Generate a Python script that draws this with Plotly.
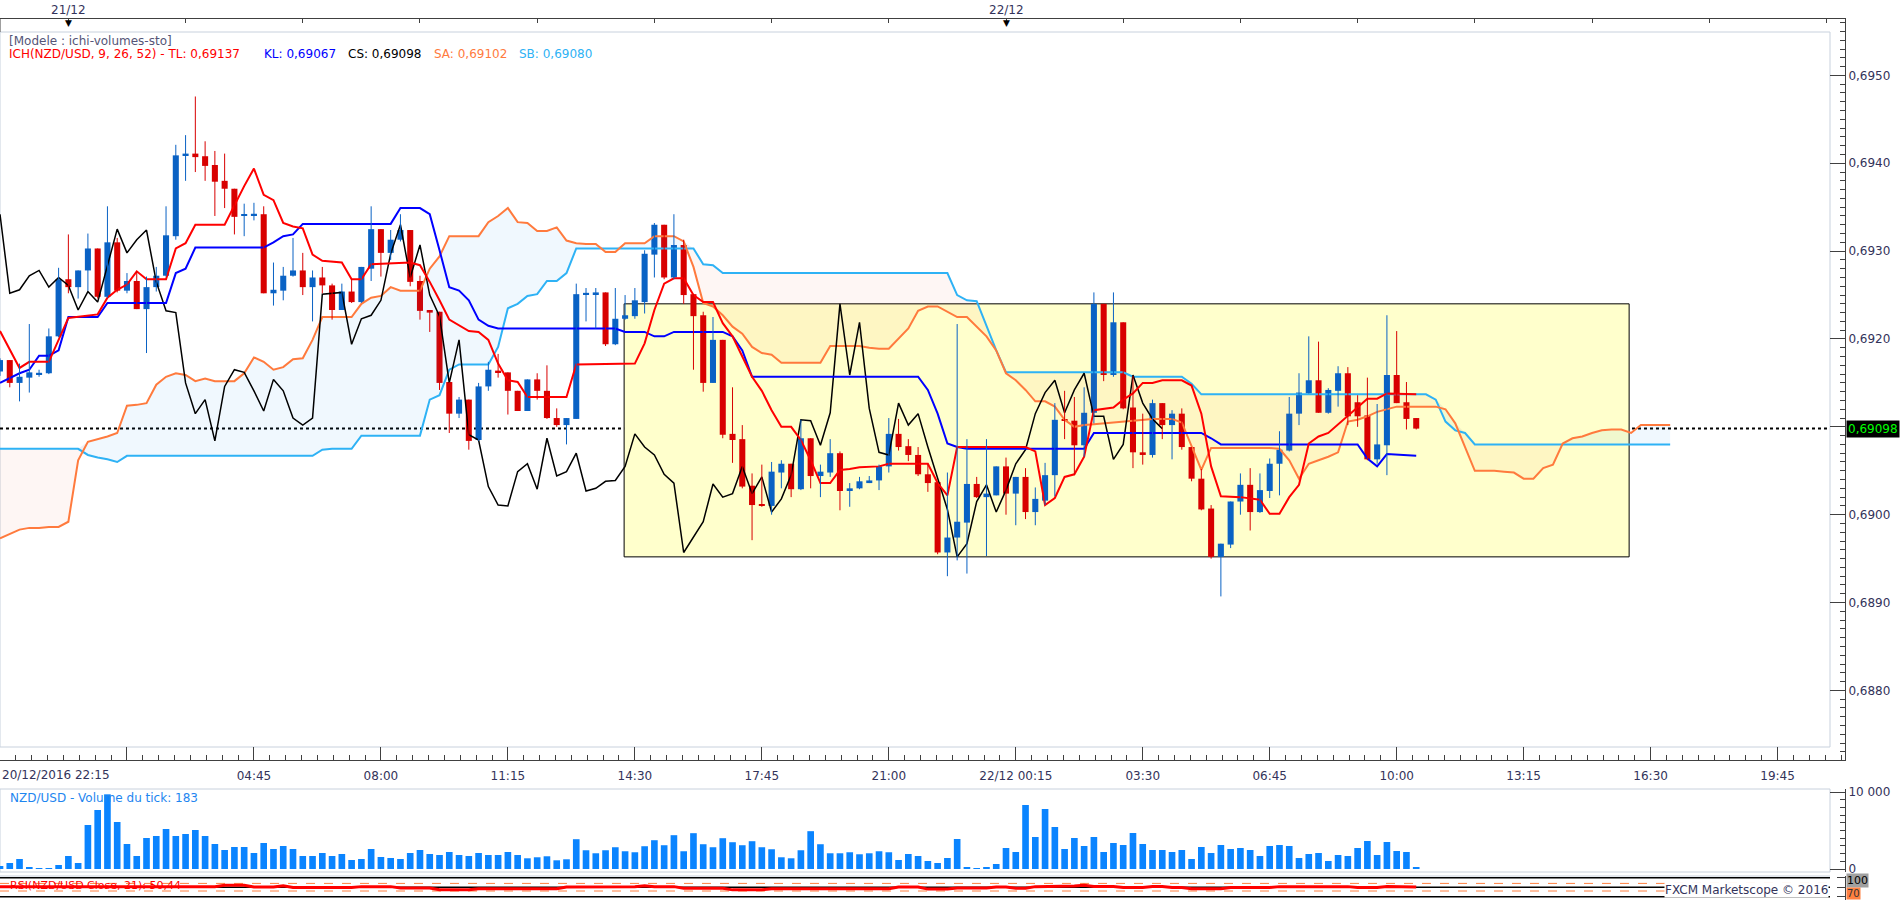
import numpy as np
import plotly.graph_objects as go
from plotly.subplots import make_subplots

# NZD/USD, 15 min bars. bar 0 = 20/12/2016 22:15, last bar (145) = 22/12/2016 10:30
opens = [
    0.69163, 0.69176, 0.69150, 0.69156, 0.69160, 0.69161, 0.69203, 0.69268, 0.69259, 0.69278,
    0.69303, 0.69248, 0.69310, 0.69255, 0.69266, 0.69234, 0.69259, 0.69272, 0.69317, 0.69409,
    0.69411, 0.69408, 0.69398, 0.69380, 0.69371, 0.69340, 0.69341, 0.69342, 0.69252, 0.69255,
    0.69272, 0.69278, 0.69259, 0.69270, 0.69261, 0.69233, 0.69254, 0.69242, 0.69280, 0.69325,
    0.69298, 0.69313, 0.69324, 0.69266, 0.69233, 0.69231, 0.69151, 0.69115, 0.69131, 0.69085,
    0.69146, 0.69164, 0.69162, 0.69141, 0.69118, 0.69154, 0.69141, 0.69110, 0.69102, 0.69109,
    0.69251, 0.69251, 0.69253, 0.69194, 0.69223, 0.69226, 0.69242, 0.69296, 0.69330, 0.69270,
    0.69307, 0.69251, 0.69227, 0.69150, 0.69199, 0.69092, 0.69086, 0.69033, 0.69012, 0.69010,
    0.69048, 0.69058, 0.69029, 0.69087, 0.69044, 0.69048, 0.69070, 0.69027, 0.69030, 0.69036,
    0.69039, 0.69055, 0.69092, 0.69078, 0.69068, 0.69046, 0.69037, 0.68957, 0.68974, 0.68991,
    0.69035, 0.69020, 0.69022, 0.69055, 0.69024, 0.69043, 0.69003, 0.69016, 0.69045, 0.69108,
    0.69107, 0.69079, 0.69116, 0.69240, 0.69159, 0.69219, 0.69122, 0.69071, 0.69068, 0.69127,
    0.69102, 0.69115, 0.69077, 0.69041, 0.69007, 0.68952, 0.68966, 0.69015, 0.69034, 0.69003,
    0.69027, 0.69058, 0.69073, 0.69115, 0.69138, 0.69153, 0.69116, 0.69141, 0.69161, 0.69128,
    0.69113, 0.69063, 0.69079, 0.69159, 0.69128, 0.69110,
]
highs = [
    0.69178, 0.69176, 0.69172, 0.69217, 0.69165, 0.69212, 0.69281, 0.69319, 0.69278, 0.69320,
    0.69303, 0.69351, 0.69315, 0.69275, 0.69277, 0.69271, 0.69282, 0.69351, 0.69421, 0.69432,
    0.69476, 0.69425, 0.69414, 0.69411, 0.69371, 0.69354, 0.69355, 0.69351, 0.69287, 0.69282,
    0.69315, 0.69298, 0.69278, 0.69282, 0.69263, 0.69263, 0.69268, 0.69282, 0.69351, 0.69325,
    0.69324, 0.69342, 0.69324, 0.69272, 0.69233, 0.69231, 0.69151, 0.69134, 0.69131, 0.69150,
    0.69174, 0.69183, 0.69162, 0.69141, 0.69154, 0.69161, 0.69170, 0.69121, 0.69110, 0.69263,
    0.69258, 0.69258, 0.69253, 0.69258, 0.69250, 0.69258, 0.69301, 0.69332, 0.69330, 0.69342,
    0.69313, 0.69251, 0.69231, 0.69225, 0.69199, 0.69145, 0.69102, 0.69047, 0.69057, 0.69060,
    0.69062, 0.69058, 0.69108, 0.69087, 0.69057, 0.69086, 0.69072, 0.69036, 0.69043, 0.69044,
    0.69057, 0.69110, 0.69109, 0.69086, 0.69077, 0.69058, 0.69037, 0.69048, 0.69217, 0.69086,
    0.69043, 0.69086, 0.69055, 0.69065, 0.69043, 0.69053, 0.69031, 0.69059, 0.69127, 0.69141,
    0.69134, 0.69145, 0.69253, 0.69240, 0.69253, 0.69219, 0.69158, 0.69115, 0.69131, 0.69127,
    0.69119, 0.69121, 0.69077, 0.69052, 0.69011, 0.68967, 0.69015, 0.69047, 0.69053, 0.69047,
    0.69064, 0.69095, 0.69134, 0.69161, 0.69203, 0.69197, 0.69144, 0.69169, 0.69168, 0.69136,
    0.69156, 0.69126, 0.69227, 0.69209, 0.69151, 0.69110,
]
lows = [
    0.69158, 0.69145, 0.69129, 0.69139, 0.69157, 0.69160, 0.69202, 0.69252, 0.69246, 0.69255,
    0.69246, 0.69247, 0.69253, 0.69252, 0.69234, 0.69184, 0.69254, 0.69271, 0.69313, 0.69380,
    0.69390, 0.69380, 0.69340, 0.69349, 0.69319, 0.69317, 0.69335, 0.69252, 0.69238, 0.69244,
    0.69271, 0.69250, 0.69220, 0.69252, 0.69222, 0.69233, 0.69241, 0.69241, 0.69266, 0.69271,
    0.69290, 0.69311, 0.69260, 0.69222, 0.69208, 0.69142, 0.69093, 0.69110, 0.69074, 0.69084,
    0.69141, 0.69156, 0.69114, 0.69118, 0.69118, 0.69131, 0.69109, 0.69100, 0.69080, 0.69109,
    0.69220, 0.69212, 0.69192, 0.69193, 0.69222, 0.69223, 0.69229, 0.69270, 0.69268, 0.69268,
    0.69240, 0.69165, 0.69140, 0.69150, 0.69087, 0.69059, 0.69030, 0.68971, 0.69009, 0.69000,
    0.69030, 0.69020, 0.69028, 0.69030, 0.69020, 0.69043, 0.69005, 0.69009, 0.69029, 0.69036,
    0.69028, 0.69048, 0.69073, 0.69061, 0.69044, 0.69026, 0.68955, 0.68930, 0.68948, 0.68933,
    0.69019, 0.68953, 0.69022, 0.69000, 0.68988, 0.68995, 0.68988, 0.69011, 0.69021, 0.69086,
    0.69045, 0.69066, 0.69104, 0.69152, 0.69157, 0.69120, 0.69053, 0.69057, 0.69065, 0.69086,
    0.69063, 0.69074, 0.69038, 0.69005, 0.68950, 0.68907, 0.68962, 0.69000, 0.68982, 0.69002,
    0.69019, 0.69022, 0.69072, 0.69102, 0.69138, 0.69116, 0.69115, 0.69123, 0.69102, 0.69100,
    0.69062, 0.69058, 0.69045, 0.69127, 0.69097, 0.69097,
]
closes = [
    0.69176, 0.69150, 0.69157, 0.69162, 0.69161, 0.69203, 0.69268, 0.69259, 0.69278, 0.69303,
    0.69248, 0.69310, 0.69255, 0.69266, 0.69234, 0.69259, 0.69272, 0.69318, 0.69409, 0.69411,
    0.69407, 0.69397, 0.69379, 0.69371, 0.69339, 0.69342, 0.69342, 0.69252, 0.69256, 0.69272,
    0.69278, 0.69259, 0.69270, 0.69261, 0.69233, 0.69254, 0.69242, 0.69282, 0.69325, 0.69298,
    0.69313, 0.69324, 0.69265, 0.69232, 0.69230, 0.69150, 0.69115, 0.69131, 0.69084, 0.69146,
    0.69165, 0.69162, 0.69141, 0.69118, 0.69154, 0.69141, 0.69110, 0.69102, 0.69110, 0.69251,
    0.69252, 0.69253, 0.69194, 0.69223, 0.69227, 0.69244, 0.69297, 0.69330, 0.69270, 0.69307,
    0.69250, 0.69226, 0.69150, 0.69199, 0.69091, 0.69085, 0.69032, 0.69011, 0.69010, 0.69049,
    0.69058, 0.69029, 0.69087, 0.69044, 0.69049, 0.69070, 0.69027, 0.69030, 0.69038, 0.69039,
    0.69055, 0.69092, 0.69077, 0.69068, 0.69046, 0.69036, 0.68957, 0.68974, 0.68992, 0.69035,
    0.69020, 0.69024, 0.69055, 0.69024, 0.69043, 0.69003, 0.69018, 0.69045, 0.69108, 0.69107,
    0.69079, 0.69116, 0.69240, 0.69159, 0.69219, 0.69121, 0.69071, 0.69068, 0.69127, 0.69102,
    0.69115, 0.69077, 0.69041, 0.69006, 0.68952, 0.68967, 0.69015, 0.69034, 0.69003, 0.69028,
    0.69058, 0.69074, 0.69115, 0.69139, 0.69153, 0.69116, 0.69142, 0.69161, 0.69112, 0.69112,
    0.69063, 0.69080, 0.69159, 0.69127, 0.69109, 0.69098,
]
volumes = [
    390, 779, 1299, 260, 130, 130, 519, 1688, 779, 5714,
    7662, 9697, 6104, 3247, 1688, 4026, 4286, 5195, 4286, 4545,
    5065, 4286, 3247, 2468, 2857, 2857, 2078, 3377, 2597, 2987,
    2597, 1688, 1688, 2078, 1688, 1948, 1169, 1299, 2597, 1558,
    1429, 1299, 2078, 2468, 1948, 1818, 2208, 1818, 1688, 2078,
    1818, 1818, 2208, 1818, 1391, 1522, 1652, 1130, 1261, 3870,
    2435, 2043, 2435, 2826, 2304, 2174, 2957, 3739, 3087, 4391,
    2304, 4652, 3217, 2826, 4000, 3478, 3087, 3609, 2826, 2565,
    1522, 1391, 2435, 4913, 3217, 2043, 2043, 2174, 1913, 2043,
    2304, 2174, 1169, 1948, 1688, 1039, 779, 1429, 3896, 260,
    130, 260, 649, 2727, 2208, 8312, 4156, 7792, 5455, 2597,
    4026, 2987, 4156, 2208, 3377, 3117, 4675, 3247, 2468, 2468,
    2208, 2468, 1299, 2857, 2078, 3117, 2597, 2727, 2468, 1688,
    2987, 3117, 2987, 1429, 1948, 2078, 1039, 1818, 1688, 2727,
    3636, 1818, 3506, 2338, 2208, 183,
]
rsi = [
    53, 53, 53, 53, 53, 53, 53, 53, 53, 53,
    53, 53, 53, 53, 53, 53, 53, 53, 53, 53,
    53, 53, 53, 60, 60, 60, 51, 51, 51, 58,
    48, 48, 48, 48, 48, 48, 48, 53, 53, 53,
    53, 46, 46, 46, 46, 37, 37, 37, 37, 42,
    42, 42, 42, 42, 42, 42, 42, 42, 51, 51,
    51, 51, 51, 53, 53, 53, 58, 53, 53, 53,
    44, 44, 44, 44, 44, 36, 36, 36, 36, 42,
    42, 42, 42, 42, 42, 42, 42, 42, 42, 42,
    42, 42, 51, 51, 51, 40, 40, 40, 46, 46,
    46, 46, 51, 51, 44, 44, 53, 53, 56, 56,
    56, 60, 54, 54, 54, 49, 49, 49, 54, 54,
    49, 49, 42, 42, 42, 42, 48, 48, 48, 48,
    48, 53, 53, 53, 53, 53, 53, 53, 53, 48,
    48, 48, 54, 54, 52, 50.44,
]

# Tenkan (TL) and Kijun (KL) read at their break points
tenkan_bars = [0, 2, 3, 5, 7, 10, 11, 12, 13, 14, 15, 17, 18, 19, 20, 23, 25, 26, 27, 28,
               29, 30, 31, 32, 33, 35, 36, 37, 38, 42, 43, 44, 45, 46, 48, 49, 50, 51, 52, 53,
               54, 58, 59, 65, 66, 67, 68, 69, 70, 71, 72, 73, 74, 75, 76, 77, 78, 79, 80, 81,
               82, 83, 84, 85, 86, 87, 88, 90, 91, 95, 96, 97, 98, 105, 106, 107, 108, 109, 110, 111,
               112, 114, 115, 116, 117, 118, 119, 121, 122, 123, 124, 125, 127, 129, 130, 131, 132, 133, 134, 135,
               136, 137, 138, 139, 140, 141, 142, 145]
tenkan_vals = [0.69209, 0.69167, 0.69174, 0.69174, 0.69224, 0.69228, 0.69247, 0.69256, 0.69262, 0.69277,
               0.69268, 0.69268, 0.69303, 0.69309, 0.69330, 0.69330, 0.69374, 0.69394, 0.69364, 0.69358,
               0.69332, 0.69328, 0.69326, 0.69296, 0.69289, 0.69287, 0.69268, 0.69268, 0.69285, 0.69287,
               0.69284, 0.69265, 0.69244, 0.69222, 0.69209, 0.69208, 0.69199, 0.69172, 0.69153, 0.69151,
               0.69134, 0.69134, 0.69171, 0.69172, 0.69195, 0.69233, 0.69263, 0.69269, 0.69269, 0.69250,
               0.69242, 0.69242, 0.69218, 0.69203, 0.69180, 0.69157, 0.69141, 0.69119, 0.69100, 0.69100,
               0.69085, 0.69062, 0.69036, 0.69036, 0.69051, 0.69052, 0.69054, 0.69055, 0.69058, 0.69058,
               0.69036, 0.69022, 0.69077, 0.69077, 0.69072, 0.69011, 0.69019, 0.69043, 0.69046, 0.69066,
               0.69119, 0.69122, 0.69131, 0.69138, 0.69150, 0.69150, 0.69153, 0.69153, 0.69147, 0.69115,
               0.69055, 0.69021, 0.69020, 0.69017, 0.69001, 0.69001, 0.69020, 0.69034, 0.69081, 0.69089,
               0.69093, 0.69103, 0.69112, 0.69123, 0.69132, 0.69132, 0.69138, 0.69137]
kijun_bars = [0, 2, 3, 4, 5, 6, 7, 10, 11, 17, 18, 19, 20, 27, 28, 29, 30, 31, 40, 41,
              43, 44, 45, 46, 47, 48, 49, 50, 51, 63, 64, 66, 67, 68, 69, 74, 75, 76, 77, 94,
              95, 96, 97, 98, 99, 111, 112, 123, 124, 125, 139, 140, 141, 142, 145]
kijun_vals = [0.69150, 0.69161, 0.69165, 0.69181, 0.69181, 0.69187, 0.69225, 0.69225, 0.69241, 0.69241,
              0.69275, 0.69280, 0.69304, 0.69304, 0.69310, 0.69317, 0.69319, 0.69331, 0.69331, 0.69349,
              0.69349, 0.69342, 0.69301, 0.69259, 0.69255, 0.69244, 0.69222, 0.69215, 0.69212, 0.69212,
              0.69208, 0.69208, 0.69203, 0.69203, 0.69208, 0.69208, 0.69203, 0.69187, 0.69157, 0.69157,
              0.69142, 0.69115, 0.69081, 0.69077, 0.69075, 0.69075, 0.69093, 0.69093, 0.69087, 0.69080,
              0.69080, 0.69064, 0.69055, 0.69069, 0.69067]

# Senkou spans, one value per bar from bar 0 to bar 171 (26 bars past the last candle)
senkou_a = [
    0.68973, 0.68978, 0.68983, 0.68985, 0.68985, 0.68986, 0.68986, 0.68992, 0.69062, 0.69083,
    0.69086, 0.69089, 0.69093, 0.69124, 0.69125, 0.69127, 0.69148, 0.69157, 0.69161, 0.69159,
    0.69152, 0.69155, 0.69152, 0.69152, 0.69152, 0.69161, 0.69179, 0.69174, 0.69165, 0.69168,
    0.69177, 0.69178, 0.69199, 0.69225, 0.69225, 0.69225, 0.69225, 0.69240, 0.69247, 0.69249,
    0.69259, 0.69255, 0.69255, 0.69255, 0.69280, 0.69294, 0.69317, 0.69317, 0.69317, 0.69317,
    0.69333, 0.69340, 0.69349, 0.69333, 0.69332, 0.69323, 0.69323, 0.69327, 0.69312, 0.69309,
    0.69308, 0.69308, 0.69299, 0.69299, 0.69309, 0.69309, 0.69309, 0.69317, 0.69317, 0.69317,
    0.69311, 0.69282, 0.69241, 0.69237, 0.69227, 0.69214, 0.69206, 0.69191, 0.69184, 0.69182,
    0.69173, 0.69173, 0.69173, 0.69173, 0.69173, 0.69192, 0.69192, 0.69192, 0.69192, 0.69190,
    0.69189, 0.69189, 0.69200, 0.69212, 0.69232, 0.69237, 0.69237, 0.69231, 0.69225, 0.69225,
    0.69214, 0.69203, 0.69187, 0.69161, 0.69153, 0.69142, 0.69129, 0.69129, 0.69123, 0.69108,
    0.69100, 0.69102, 0.69103, 0.69104, 0.69105, 0.69106, 0.69107, 0.69108, 0.69109, 0.69109,
    0.69109, 0.69105, 0.69077, 0.69051, 0.69076, 0.69076, 0.69076, 0.69076, 0.69076, 0.69076,
    0.69076, 0.69075, 0.69062, 0.69041, 0.69058, 0.69062, 0.69066, 0.69071, 0.69106, 0.69108,
    0.69112, 0.69117, 0.69120, 0.69123, 0.69123, 0.69123, 0.69123, 0.69123, 0.69120, 0.69104,
    0.69077, 0.69050, 0.69050, 0.69050, 0.69049, 0.69048, 0.69041, 0.69041, 0.69053, 0.69057,
    0.69081, 0.69087, 0.69089, 0.69093, 0.69096, 0.69097, 0.69097, 0.69093, 0.69102, 0.69102,
    0.69102, 0.69102,
]
senkou_b = [
    0.69075, 0.69075, 0.69075, 0.69075, 0.69075, 0.69075, 0.69075, 0.69075, 0.69075, 0.69068,
    0.69065, 0.69063, 0.69060, 0.69067, 0.69067, 0.69067, 0.69067, 0.69067, 0.69067, 0.69067,
    0.69067, 0.69067, 0.69067, 0.69067, 0.69067, 0.69067, 0.69067, 0.69067, 0.69067, 0.69067,
    0.69067, 0.69067, 0.69067, 0.69074, 0.69075, 0.69075, 0.69075, 0.69090, 0.69090, 0.69090,
    0.69090, 0.69090, 0.69090, 0.69090, 0.69131, 0.69136, 0.69165, 0.69171, 0.69171, 0.69171,
    0.69171, 0.69191, 0.69235, 0.69240, 0.69249, 0.69251, 0.69266, 0.69266, 0.69275, 0.69303,
    0.69303, 0.69303, 0.69303, 0.69303, 0.69303, 0.69303, 0.69303, 0.69303, 0.69303, 0.69303,
    0.69303, 0.69303, 0.69285, 0.69284, 0.69275, 0.69275, 0.69275, 0.69275, 0.69275, 0.69275,
    0.69275, 0.69275, 0.69275, 0.69275, 0.69275, 0.69275, 0.69275, 0.69275, 0.69275, 0.69275,
    0.69275, 0.69275, 0.69275, 0.69275, 0.69275, 0.69275, 0.69275, 0.69275, 0.69250, 0.69244,
    0.69243, 0.69214, 0.69187, 0.69162, 0.69162, 0.69162, 0.69162, 0.69162, 0.69162, 0.69162,
    0.69162, 0.69162, 0.69162, 0.69162, 0.69162, 0.69162, 0.69157, 0.69157, 0.69157, 0.69157,
    0.69157, 0.69157, 0.69149, 0.69137, 0.69137, 0.69137, 0.69137, 0.69137, 0.69137, 0.69137,
    0.69137, 0.69137, 0.69137, 0.69137, 0.69137, 0.69137, 0.69137, 0.69137, 0.69137, 0.69137,
    0.69137, 0.69137, 0.69137, 0.69137, 0.69137, 0.69137, 0.69137, 0.69131, 0.69106, 0.69096,
    0.69093, 0.69080, 0.69080, 0.69080, 0.69080, 0.69080, 0.69080, 0.69080, 0.69080, 0.69080,
    0.69080, 0.69080, 0.69080, 0.69080, 0.69080, 0.69080, 0.69080, 0.69080, 0.69080, 0.69080,
    0.69080, 0.69080,
]

# bottom time axis: a major tick every 13 bars (3h15)
tick_bars = list(range(0, 183, 13))
tick_labels = ["", "", "04:45", "08:00", "11:15", "14:30", "17:45", "21:00",
               "22/12 00:15", "03:30", "06:45", "10:00", "13:15", "16:30", "19:45"]
first_label = "20/12/2016 22:15"
# price axis; 0,6910 sits under the last price box
price_ticks = [0.6880, 0.6890, 0.6900, 0.6910, 0.6920, 0.6930, 0.6940, 0.6950]
price_labels = ["0,6880", "0,6890", "0,6900", "", "0,6920", "0,6930", "0,6940", "0,6950"]
# top strip: a tick every 3 hours, day markers at midnight
top_tick_bars = list(range(7, 189, 12))
day_bars = [7, 103]
day_labels = ["21/12", "22/12"]

# user rectangle drawn on the chart
box_bars = [63.9, 166.8]
box_prices = [0.68952, 0.69240]

rsi_levels = [100, 50, 0]
rsi_bands = [70, 30]

# ---- geometry (pixels of the 1903x900 page)
W, H = 1903, 900
AXIS_PX = 1845       # right axis line
EDGE_PX = 1830       # inner right border of the panels
BAR_PX = 9.767       # one 15 min bar
PRICE_PX = 0.001 / 87.86

UP_C, DOWN_C = "#0a62c4", "#d80000"
TL_C, KL_C, CS_C, SA_C, SB_C = "#ff0000", "#0000ff", "#000000", "#ff7a3d", "#2eb2f5"
AX = "#404040"
BORDER = "#c8d1dd"
TXT = "#33335a"
FONT = "DejaVu Sans"


def xp(px):
    return px / AXIS_PX


def yp(py):
    return 1 - py / H


def fr(v, nd=5):
    return f"{v:.{nd}f}".replace(".", ",")


bars = np.arange(len(closes))
o, hi, lo, c = (np.array(a) for a in (opens, highs, lows, closes))
up = c >= o

x_range = [0, AXIS_PX / BAR_PX]
price_range = [0.69 - (760 - 514.7) * PRICE_PX, 0.69 + (514.7 - 19) * PRICE_PX]
vol_range = [-3 * 10000 / 77, 10000 + 3 * 10000 / 77]
rsi_range = [-(900 - 896.7) * 100 / 19, 100 + (877.7 - 876) * 100 / 19]

fig = make_subplots(rows=3, cols=1)

# cloud: pink where SB is above SA, pale blue where SA is above SB
span = np.arange(len(senkou_a))
sa, sb = np.array(senkou_a), np.array(senkou_b)
upper = np.maximum(sa, sb)
for lower, color in ((sa, "rgba(230,80,40,0.05)"), (sb, "rgba(0,130,230,0.06)")):
    fig.add_trace(go.Scatter(x=span, y=lower, mode="lines", line=dict(width=0),
                             hoverinfo="skip"), row=1, col=1)
    fig.add_trace(go.Scatter(x=span, y=upper, mode="lines", line=dict(width=0),
                             fill="tonexty", fillcolor=color, hoverinfo="skip"), row=1, col=1)

fig.add_trace(go.Scatter(x=span, y=sb, mode="lines", line=dict(color=SB_C, width=2)), row=1, col=1)
fig.add_trace(go.Scatter(x=span, y=sa, mode="lines", line=dict(color=SA_C, width=2)), row=1, col=1)
# chikou = close drawn 26 bars back
fig.add_trace(go.Scatter(x=bars[26:] - 26, y=c[26:], mode="lines",
                         line=dict(color=CS_C, width=1.5)), row=1, col=1)
fig.add_trace(go.Scatter(x=kijun_bars, y=kijun_vals, mode="lines",
                         line=dict(color=KL_C, width=2)), row=1, col=1)
fig.add_trace(go.Scatter(x=tenkan_bars, y=tenkan_vals, mode="lines",
                         line=dict(color=TL_C, width=2)), row=1, col=1)

# candles: wicks then bodies
for mask, color in ((up, UP_C), (~up, DOWN_C)):
    wx, wy = [], []
    for i in bars[mask]:
        wx += [i, i, None]
        wy += [lo[i], hi[i], None]
    fig.add_trace(go.Scatter(x=wx, y=wy, mode="lines", line=dict(color=color, width=1),
                             hoverinfo="skip"), row=1, col=1)
fig.add_trace(go.Bar(x=bars, y=np.maximum(np.abs(c - o), 0.000015), base=np.minimum(o, c),
                     width=0.62, marker=dict(color=np.where(up, UP_C, DOWN_C), line=dict(width=0))),
              row=1, col=1)

fig.add_trace(go.Bar(x=bars, y=volumes, width=0.68,
                     marker=dict(color="#0a84ff", line=dict(width=0))), row=2, col=1)

fig.add_trace(go.Scatter(x=bars, y=rsi, mode="lines", line=dict(color="#ff0000", width=3)),
              row=3, col=1)

# holder for the top strip ticks
fig.add_trace(go.Scatter(x=day_bars, y=[price_range[1]] * len(day_bars), xaxis="x4", yaxis="y",
                         mode="markers", marker=dict(opacity=0), hoverinfo="skip"))

tickfont = dict(family=FONT, size=12, color=TXT)
hidden_x = dict(domain=[0, 1], range=x_range, showline=False, ticks="", showticklabels=False,
                showgrid=False, zeroline=False)

fig.update_layout(
    width=W, height=H,
    margin=dict(l=0, r=W - AXIS_PX, t=0, b=0),
    template="none",
    paper_bgcolor="white", plot_bgcolor="white",
    showlegend=False, barmode="overlay", separators=", ",
    font=dict(family=FONT, size=12, color=TXT),
    xaxis=dict(domain=[0, 1], range=x_range, showline=True, linecolor=AX, linewidth=1,
               mirror=True, ticks="inside", ticklen=13, tickcolor=AX,
               tickmode="array", tickvals=tick_bars, ticktext=tick_labels,
               showticklabels=True, tickfont=tickfont, ticklabelstandoff=5,
               minor=dict(ticks="inside", ticklen=5, tickcolor=AX, dtick=13 / 8, tick0=0,
                          showgrid=False),
               showgrid=False, zeroline=False, automargin=False),
    yaxis=dict(domain=[yp(760), yp(19)], range=price_range, side="right",
               showline=True, linecolor=AX, ticks="inside", ticklen=15, tickcolor=AX,
               tickmode="array", tickvals=price_ticks, ticktext=price_labels, tickfont=tickfont,
               minor=dict(ticks="inside", ticklen=5, tickcolor=AX, dtick=0.0001, tick0=0.69,
                          showgrid=False),
               showgrid=False, zeroline=False, automargin=False),
    xaxis2=dict(hidden_x, anchor="y2"),
    yaxis2=dict(domain=[yp(872), yp(789)], range=vol_range, side="right", anchor="x2",
                showline=True, linecolor=AX, ticks="inside", ticklen=15, tickcolor=AX,
                tickvals=[0, 10000], tickformat=",d", tickfont=tickfont,
                minor=dict(ticks="inside", ticklen=5, tickcolor=AX, dtick=1000, showgrid=False),
                showgrid=False, zeroline=False, automargin=False),
    xaxis3=dict(hidden_x, anchor="y3"),
    yaxis3=dict(domain=[0, yp(876)], range=rsi_range, side="right", anchor="x3",
                showline=True, linecolor=AX, ticks="inside", ticklen=8, tickcolor=AX,
                tickvals=rsi_levels, showticklabels=False,
                showgrid=False, zeroline=False, automargin=False),
    xaxis4=dict(overlaying="x", side="top", anchor="y", range=x_range,
                tickmode="array", tickvals=top_tick_bars, ticks="inside", ticklen=4,
                tickcolor=AX, showticklabels=False, showline=False, showgrid=False,
                zeroline=False),
)

shapes = [
    dict(type="rect", xref="paper", yref="paper", x0=0, x1=xp(EDGE_PX), y0=yp(747), y1=yp(32),
         line=dict(color=BORDER, width=1), layer="below"),
    dict(type="rect", xref="paper", yref="paper", x0=0, x1=xp(EDGE_PX), y0=yp(872), y1=yp(789),
         line=dict(color=BORDER, width=1), layer="below"),
    dict(type="line", xref="paper", yref="paper", x0=0, x1=xp(EDGE_PX), y0=yp(876), y1=yp(876),
         line=dict(color=BORDER, width=1), layer="below"),
    dict(type="line", xref="paper", yref="paper", x0=0, x1=0, y0=yp(32), y1=yp(19),
         line=dict(color=AX, width=1)),
    dict(type="rect", xref="x", yref="y", x0=box_bars[0], x1=box_bars[1],
         y0=box_prices[0], y1=box_prices[1], fillcolor="#ffffcc",
         line=dict(color="black", width=1), layer="below"),
    dict(type="line", xref="paper", yref="y", x0=0, x1=xp(EDGE_PX), y0=closes[-1], y1=closes[-1],
         line=dict(color="black", width=2, dash="dot"), layer="below"),
]
for lv in rsi_levels:
    shapes.append(dict(type="line", xref="paper", yref="y3", x0=0, x1=xp(EDGE_PX), y0=lv, y1=lv,
                       line=dict(color="black", width=1.5), layer="below"))
for lv in rsi_bands:
    shapes.append(dict(type="line", xref="paper", yref="y3", x0=0, x1=xp(EDGE_PX), y0=lv, y1=lv,
                       line=dict(color="#ff8040", width=1, dash="dash"), layer="below"))
fig.update_layout(shapes=shapes)


def note(text, x_px, y_px, color=TXT, xanchor="left", size=12, **kw):
    fig.add_annotation(text=text, xref="paper", yref="paper", x=xp(x_px), y=yp(y_px),
                       xanchor=xanchor, yanchor="middle", showarrow=False,
                       font=dict(family=FONT, size=size, color=color), **kw)


note("[Modele : ichi-volumes-sto]", 7, 41, color="#555577")
note(f"ICH(NZD/USD, 9, 26, 52) - TL: {fr(tenkan_vals[-1])}", 7, 54, color=TL_C)
note(f"KL: {fr(kijun_vals[-1])}", 262, 54, color=KL_C)
note(f"CS: {fr(closes[-1])}", 346, 54, color=CS_C)
note(f"SA: {fr(senkou_a[-1])}", 432, 54, color=SA_C)
note(f"SB: {fr(senkou_b[-1])}", 517, 54, color=SB_C)

for b, lab in zip(day_bars, day_labels):
    note(lab, b * BAR_PX, 10, xanchor="center")
    note("▼", b * BAR_PX, 23, color="black", xanchor="center", size=9)

note(first_label, 0, 775)
note(f"NZD/USD - Volume du tick: {volumes[-1]}", 8, 798, color="#1e86f0")
note(f"RSI(NZD/USD Close, 21): {fr(rsi[-1], 2)}", 8, 885, color="#ff0000", size=11)
note("FXCM Marketscope © 2016", EDGE_PX - 1, 890, xanchor="right", bgcolor="white", borderpad=0)

fig.add_annotation(text=fr(closes[-1]), xref="paper", yref="y", x=xp(AXIS_PX + 1), y=closes[-1],
                   xanchor="left", yanchor="middle", showarrow=False, bgcolor="black", borderpad=1,
                   font=dict(family=FONT, size=12, color="#00ff00"))
note("100", AXIS_PX + 1, 880, color="black", bgcolor="#a0a0a0", borderpad=0, size=11)
note("70", AXIS_PX + 1, 893, color="#333333", bgcolor="#ff8040", borderpad=0, size=10)

# the page is photographed from its top-left corner: drop the default body margin
fig.write_html("out.html", config={"displayModeBar": False},
               post_script="document.body.style.margin = '0';")
